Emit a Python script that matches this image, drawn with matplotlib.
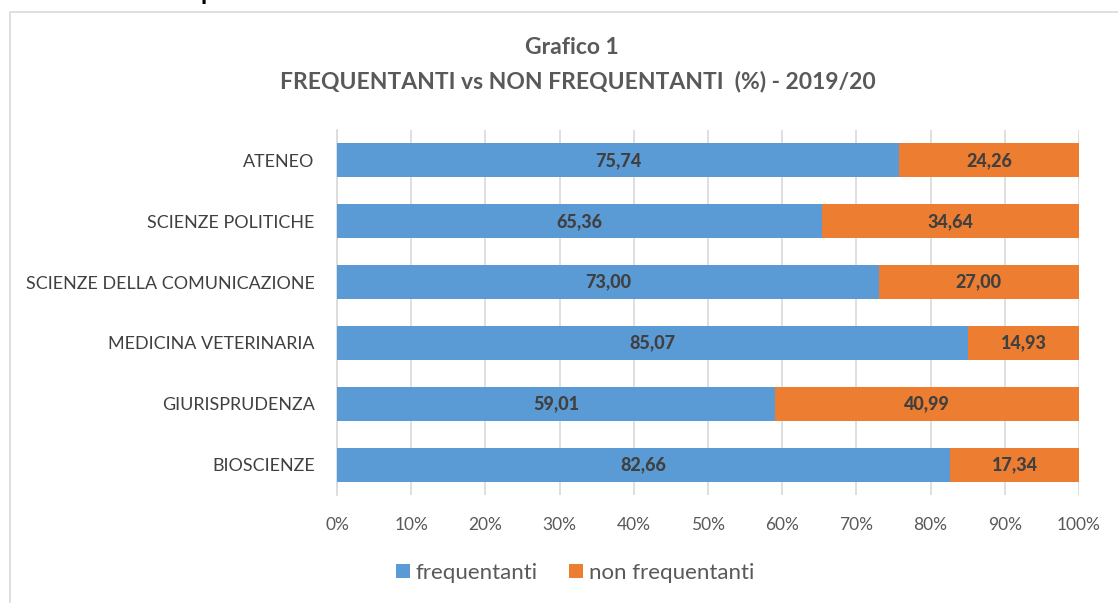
import matplotlib.pyplot as plt
from matplotlib.patches import Rectangle

categories = ['ATENEO', 'SCIENZE POLITICHE', 'SCIENZE DELLA COMUNICAZIONE',
              'MEDICINA VETERINARIA', 'GIURISPRUDENZA', 'BIOSCIENZE']
frequentanti = [75.74, 65.36, 73.00, 85.07, 59.01, 82.66]
non_frequentanti = [24.26, 34.64, 27.00, 14.93, 40.99, 17.34]
ticks = [0, 10, 20, 30, 40, 50, 60, 70, 80, 90, 100]

plt.rcParams['font.family'] = ['Lato', 'DejaVu Sans']

def fmt(v):
    return ('%.2f' % v).replace('.', ',')

def main():
    fig = plt.figure(figsize=(11.18, 6.03), dpi=100)
    # chart frame
    fig.patches.append(Rectangle((10 / 1118, -0.02), 1.2, 1 - 12 / 603 + 0.02,
                                 transform=fig.transFigure, fill=False,
                                 edgecolor='#d9d9d9', linewidth=1.2))
    fig.text(12 / 1118, 1.012, 'Studenti non frequentanti', ha='left', va='center',
             fontsize=18, fontweight='bold', color='black')

    ax = fig.add_axes([337 / 1118, 1 - 495 / 603, (1079 - 337) / 1118, (495 - 130) / 603])
    ypos = list(range(len(categories)))[::-1]
    blue = '#5b9bd5'
    orange = '#ed7d31'
    ax.barh(ypos, frequentanti, height=0.56, color=blue, label='frequentanti', zorder=3)
    ax.barh(ypos, non_frequentanti, left=frequentanti, height=0.56, color=orange,
            label='non frequentanti', zorder=3)
    for y, f, n in zip(ypos, frequentanti, non_frequentanti):
        ax.text(f / 2, y, fmt(f), ha='center', va='center', fontsize=13,
                fontweight='black', color='#404040', zorder=4)
        ax.text(f + n / 2, y, fmt(n), ha='center', va='center', fontsize=13,
                fontweight='black', color='#404040', zorder=4)

    ax.set_xlim(0, 100)
    ax.set_ylim(-0.5, len(categories) - 0.5)
    ax.set_xticks(ticks)
    ax.set_xticklabels(['%d%%' % t for t in ticks], fontsize=12.5, color='#595959')
    ax.set_yticks(ypos)
    ax.set_yticklabels(categories, fontsize=12.9, color='#404040')
    ax.grid(axis='x', color='#d9d9d9', linewidth=1.2, zorder=0)
    for s in ['top', 'right', 'bottom']:
        ax.spines[s].set_visible(False)
    ax.spines['left'].set_color('#d9d9d9')
    ax.spines['left'].set_linewidth(1.2)
    ax.tick_params(axis='y', length=0, pad=16)
    ax.tick_params(axis='x', length=0, pad=16)

    fig.text(572 / 1118, 1 - 48 / 603, 'Grafico 1', ha='center', va='center',
             fontsize=16.5, fontweight='bold', color='#595959')
    fig.text(578 / 1118, 1 - 81 / 603, 'FREQUENTANTI vs NON FREQUENTANTI  (%) - 2019/20',
             ha='center', va='center', fontsize=16.5, fontweight='bold', color='#595959')

    fig.legend(loc='center', bbox_to_anchor=(575 / 1118, 1 - 573 / 603), ncol=2,
               frameon=False, fontsize=16, handlelength=0.63, handleheight=0.63,
               handletextpad=0.27, columnspacing=1.4, labelcolor='#595959')

    fig.savefig('out.png', dpi=100)

if __name__ == '__main__':
    main()
